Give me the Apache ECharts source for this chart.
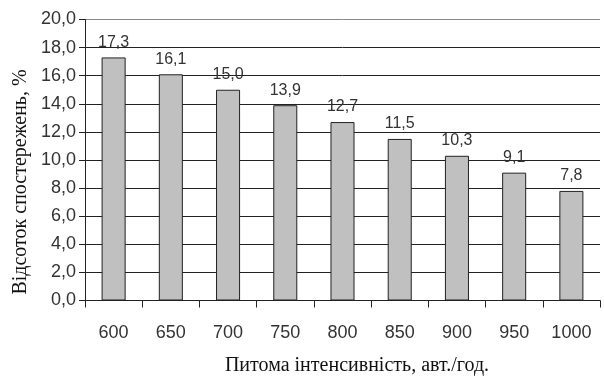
<!DOCTYPE html>
<html>
<head>
<meta charset="utf-8">
<script src="https://cdn.jsdelivr.net/npm/echarts@6/dist/echarts.min.js"></script>
<style>
html,body{margin:0;padding:0;background:#fff;}
#chart{width:604px;height:378px;}
</style>
</head>
<body>
<div id="chart"></div>
<script>
// Traffic intensity categories and share of observations
const categories = ['600', '650', '700', '750', '800', '850', '900', '950', '1000'];
const shareValues = [17.3, 16.1, 15.0, 13.9, 12.7, 11.5, 10.3, 9.1, 7.8];
const yTicks = [0, 2, 4, 6, 8, 10, 12, 14, 16, 18, 20];

const xName = 'Питома інтенсивність, авт./год.';
const yName = 'Відсоток спостережень, %';

const comma = v => Number(v).toFixed(1).replace('.', ',');
const nameFont = { fontFamily: 'Liberation Serif', fontSize: 20, fill: '#111' };

const chart = echarts.init(document.getElementById('chart'));
chart.setOption({
  animation: false,
  grid: { left: 85, right: 4, top: 19.5, bottom: 77.5, containLabel: false },
  xAxis: {
    type: 'category',
    data: categories,
    axisLine: { lineStyle: { color: '#222', width: 1 } },
    axisTick: { show: true, length: 7, inside: false, lineStyle: { color: '#222' } },
    axisLabel: { fontFamily: 'Liberation Sans', fontSize: 18, color: '#333', margin: 24 }
  },
  yAxis: {
    type: 'value',
    min: yTicks[0],
    max: yTicks[yTicks.length - 1],
    interval: 2,
    axisLine: { show: true, lineStyle: { color: '#222', width: 1 } },
    axisTick: { show: true, length: 6, lineStyle: { color: '#222' } },
    axisLabel: { fontFamily: 'Liberation Sans', fontSize: 18, color: '#333', margin: 9, formatter: comma },
    splitLine: {
      show: true,
      lineStyle: { color: ['#222', '#222', '#222', '#222', '#222', '#222', '#222', '#222', '#222', '#222', '#888'], width: 1 }
    }
  },
  graphic: [
    {
      type: 'text',
      x: 357, y: 366,
      style: Object.assign({ text: xName, align: 'center', verticalAlign: 'middle' }, nameFont)
    },
    {
      type: 'text',
      x: 21, y: 182,
      rotation: Math.PI / 2,
      style: Object.assign({ text: yName, align: 'center', verticalAlign: 'middle' }, nameFont)
    }
  ],
  series: [{
    type: 'bar',
    data: shareValues,
    barCategoryGap: '58%',
    itemStyle: { color: '#c0c0c0', borderColor: '#222', borderWidth: 1 },
    label: {
      show: true,
      position: 'top',
      distance: 7,
      fontFamily: 'Liberation Sans',
      fontSize: 16,
      color: '#333',
      formatter: p => comma(p.value)
    }
  }]
});
</script>
</body>
</html>
